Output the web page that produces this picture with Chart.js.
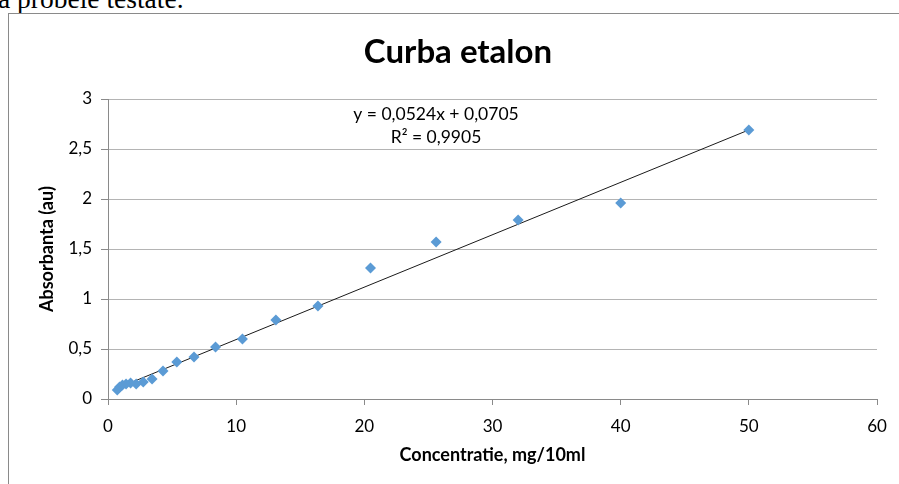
<!DOCTYPE html>
<html>
<head>
<meta charset="utf-8">
<script src="https://cdn.jsdelivr.net/npm/chart.js@4.4.0/dist/chart.umd.min.js"></script>
<style>
  html, body { margin: 0; padding: 0; background: #fff; overflow: hidden; }
  body { width: 899px; height: 484px; position: relative; }
  #lead { position: absolute; left: -2px; top: -15px; font: 27.5px/27px "Liberation Serif", serif; color: #000; white-space: nowrap; }
  #frame { position: absolute; left: 8px; top: 13px; width: 920px; height: 500px; border: 1px solid #8a8a8a; box-sizing: border-box; }
  #wrap { position: absolute; left: 0; top: 0; width: 899px; height: 484px; }
</style>
</head>
<body>
<div id="lead">a probele testate.</div>
<div id="frame"></div>
<div id="wrap"><canvas id="c" width="899" height="484"></canvas></div>
<script>
// concentratie (mg/10ml) si absorbanta
const concentratie = [50, 40, 32, 25.6, 20.48, 16.38, 13.1, 10.49, 8.39, 6.71, 5.37, 4.29, 3.44, 2.75, 2.2, 1.76, 1.41, 1.13, 0.9, 0.72]
const absorbanta = [2.69, 1.96, 1.79, 1.57, 1.31, 0.93, 0.79, 0.60, 0.52, 0.42, 0.37, 0.28, 0.20, 0.17, 0.15, 0.16, 0.15, 0.14, 0.12, 0.09]

// linia de tendinta (din ecuatia afisata)
const panta = 0.0524
const intercept = 0.0705
const ecuatie = ['y = 0,0524x + 0,0705', 'R² = 0,9905']

const puncte = concentratie.map((x, i) => ({x: x, y: absorbanta[i]}))
const xMin = Math.min(...concentratie), xMax = Math.max(...concentratie)
const trend = [xMin, xMax].map(x => ({x: x, y: panta * x + intercept}))

const fmt = v => String(v).replace('.', ',')
const FONT = 'Lato, "Open Sans", sans-serif'

// titlu + ecuatie
const textPlugin = {
    id: 'texte',
    afterDraw(chart) {
        const ctx = chart.ctx
        ctx.save()
        ctx.fillStyle = '#000'
        ctx.textAlign = 'center'
        ctx.textBaseline = 'middle'
        ctx.font = 'bold 33px ' + FONT
        ctx.fillText('Curba etalon', 458, 52)
        ctx.font = '17.5px ' + FONT
        ctx.fillText(ecuatie[0], 436, 114)
        ctx.fillText(ecuatie[1], 436, 137)
        ctx.restore()
    }
}

new Chart(document.getElementById('c'), {
    type: 'scatter',
    data: {
        datasets: [
            {
                data: puncte,
                pointStyle: 'rectRot',
                pointRadius: 5.5,
                pointHoverRadius: 5.5,
                backgroundColor: '#5b9bd5',
                borderColor: '#5b9bd5',
                borderWidth: 0,
                order: 1
            },
            {
                type: 'line',
                data: trend,
                borderColor: '#1a1a1a',
                borderWidth: 1,
                pointRadius: 0,
                fill: false,
                order: 2
            }
        ]
    },
    options: {
        responsive: false,
        animation: false,
        layout: {padding: {left: 0, right: 22, top: 99, bottom: 0}},
        plugins: {legend: {display: false}, tooltip: {enabled: false}, title: {display: false}},
        scales: {
            x: {
                type: 'linear', min: 0, max: 60,
                ticks: {stepSize: 10, color: '#000', font: {family: FONT, size: 17}, padding: 11, maxRotation: 0},
                grid: {display: true, drawOnChartArea: false, drawTicks: true, tickLength: 6, color: '#8a8a8a'},
                border: {display: true, color: '#8a8a8a'},
                title: {display: true, text: 'Concentratie, mg/10ml', color: '#000',
                        font: {family: FONT, size: 18, weight: 'bold'}, padding: {bottom: 18, top: 0}},
                afterFit(s) { s.height = 85 }
            },
            y: {
                type: 'linear', min: 0, max: 3,
                ticks: {stepSize: 0.5, color: '#000', font: {family: FONT, size: 17}, padding: 9,
                        callback: v => fmt(v)},
                grid: {color: '#b4b4b4', tickLength: 7, tickColor: '#8a8a8a'},
                border: {display: true, color: '#8a8a8a'},
                title: {display: true, text: 'Absorbanta (au)', color: '#000',
                        font: {family: FONT, size: 18, weight: 'bold'}, padding: {top: 36, bottom: 0}},
                afterFit(s) { s.width = 108 }
            }
        }
    },
    plugins: [textPlugin]
})
</script>
</body>
</html>
